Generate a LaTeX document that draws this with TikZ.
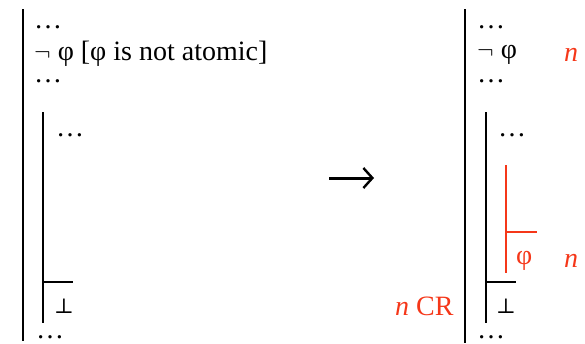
\documentclass[tikz,border=0pt]{standalone}
\usepackage{fontspec}
\setmainfont{Liberation Serif}
\newfontfamily\symbfont{DejaVu Serif}
\usetikzlibrary{arrows.meta,positioning}
\definecolor{rulered}{RGB}{245,55,25}
\tikzset{
  bar/.style={line width=1.3pt},
  redbar/.style={line width=1.3pt, rulered},
  txt/.style={anchor=west, inner sep=0pt, font=\fontsize{28}{30}\selectfont},
  redtxt/.style={txt, text=rulered},
  bottxt/.style={anchor=west, inner sep=0pt, font=\symbfont\fontsize{21}{24}\selectfont},
}

\begin{document}
\begin{tikzpicture}[x=1pt, y=-1pt]
  \useasboundingbox (0,0) rectangle (585,343);
  % before
  \coordinate (LO1) at (23,9);   \coordinate (LO2) at (23,341);
  \coordinate (LI1) at (43,112); \coordinate (LI2) at (43,323);
  \coordinate (LH) at (73,282);
  \draw[bar] (LO1) -- (LO2);
  \draw[bar] (LI1) -- (LI2);
  \draw[bar] (LI1 |- LH) -- (LH);
  \node[txt] (ldots1) at (34,27) {\ldots};
  \node[txt] (lneg) at (34,54) {$\neg$ φ [φ is not atomic]};
  \node[txt] (ldots2) at (34,81) {\ldots};
  \node[txt] (ldots3) at (56,135) {\ldots};
  \node[bottxt] (lbot) at (54,306) {⊥};
  \node[txt] (ldots4) at (36,337) {\ldots};
  % arrow
  \coordinate (A1) at (329,178); \coordinate (A2) at (374,178);
  \draw[line width=3pt, -{Straight Barb[length=9pt, width=20pt, line width=2.4pt]}] (A1) -- (A2);
  % after
  \coordinate (RO1) at (465,9);   \coordinate (RO2) at (465,343);
  \coordinate (RI1) at (486,112); \coordinate (RI2) at (486,323);
  \coordinate (RH) at (516,282);
  \coordinate (RR1) at (506,165); \coordinate (RR2) at (506,273);
  \coordinate (RRH) at (537,232);
  \draw[bar] (RO1) -- (RO2);
  \draw[bar] (RI1) -- (RI2);
  \draw[bar] (RI1 |- RH) -- (RH);
  \draw[redbar] (RR1) -- (RR2);
  \draw[redbar] (RR1 |- RRH) -- (RRH);
  \node[txt] (rdots1) at (477,27) {\ldots};
  \node[txt] (rneg) at (477,55) {$\neg$ φ};
  \node[redtxt] (rn1) at (564,55) {\textit{n}};
  \node[txt] (rdots2) at (477,81) {\ldots};
  \node[txt] (rdots3) at (498,135) {\ldots};
  \node[redtxt] (rphi) at (516,261) {φ};
  \node[redtxt] (rn2) at (564,261) {\textit{n}};
  \node[bottxt] (rbot) at (496,306) {⊥};
  \node[redtxt] (rcr) at (395,306) {\textit{n} CR};
  \node[txt] (rdots4) at (477,337) {\ldots};
\end{tikzpicture}
\end{document}
